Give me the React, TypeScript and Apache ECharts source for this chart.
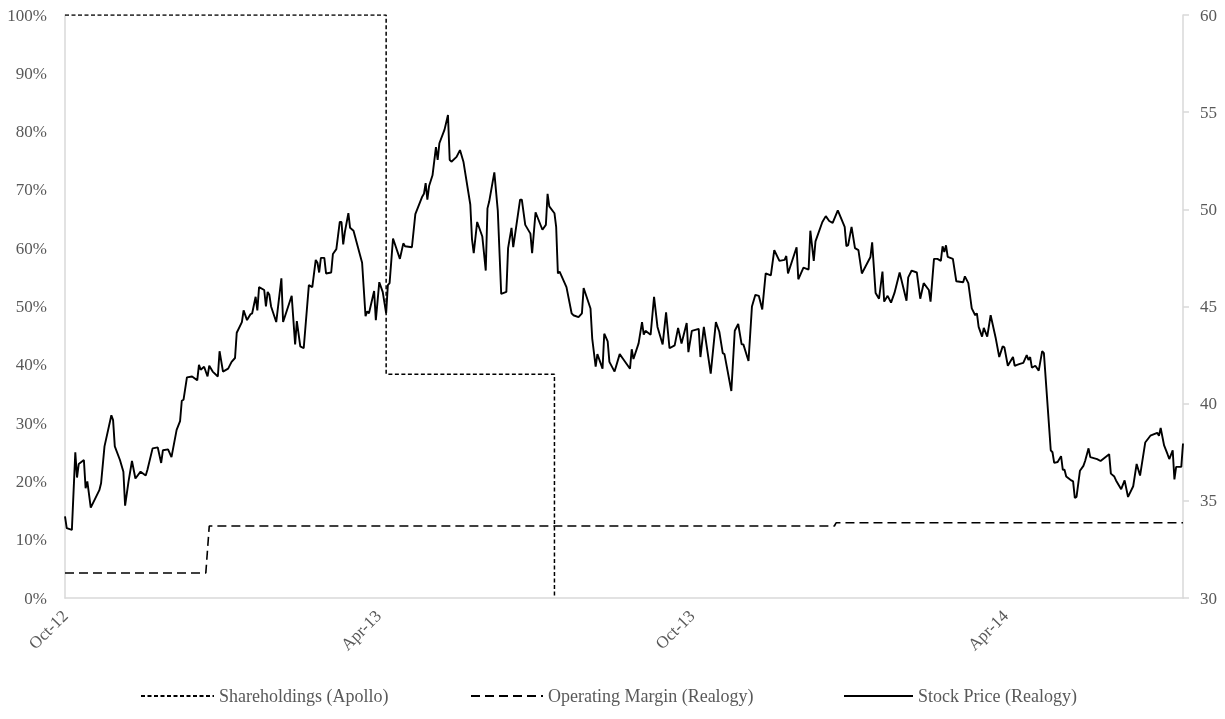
import React, { useEffect, useRef } from "react";
import * as echarts from "echarts";

// x values are days since 2012-10-01
const axisMaxDay = 651;
const tickStepDays = 182.5;
const tickLabels = ["Oct-12", "Apr-13", "Oct-13", "Apr-14"];
const leftTicksPct = { min: 0, max: 100, step: 10 };
const rightTicksPrice = { min: 30, max: 60, step: 5 };

const seriesNames = ["Shareholdings (Apollo)", "Operating Margin (Realogy)", "Stock Price (Realogy)"];

// Apollo shareholding (%), step line
const shareholdings: [number, number][] = [
  [0, 100], [187, 100], [187, 38.4], [285, 38.4], [285, 0],
];

// Realogy operating margin (%), step line
const operatingMargin: [number, number][] = [
  [0, 4.3], [82, 4.3], [84, 12.35], [448, 12.35], [449, 12.9], [651, 12.9],
];

// Realogy stock price (USD)
const stockPrice: [number, number][] = [
  [0, 34.2], [1, 33.6], [4, 33.5], [6, 37.5], [7, 36.2], [8, 36.9], [11, 37.1], [12, 35.65], [13, 36.0], [15, 34.65],
  [20, 35.55], [21, 35.9], [23, 37.8], [27, 39.4], [28, 39.15], [29, 37.8], [32, 37.1], [34, 36.5], [35, 34.75], [37, 36.0],
  [39, 37.05], [41, 36.15], [44, 36.5], [47, 36.3], [48, 36.6], [51, 37.7], [54, 37.75], [56, 36.95], [57, 37.6], [60, 37.65],
  [62, 37.25], [65, 38.65], [67, 39.1], [68, 40.15], [69, 40.2], [71, 41.35], [74, 41.4], [77, 41.2], [78, 42.0], [79, 41.75],
  [81, 41.9], [83, 41.4], [84, 41.95], [86, 41.65], [89, 41.4], [90, 42.7], [92, 41.65], [95, 41.8], [97, 42.15], [99, 42.35],
  [100, 43.65], [103, 44.2], [104, 44.8], [106, 44.3], [108, 44.6], [109, 44.65], [111, 45.5], [112, 44.8], [113, 46.0], [116, 45.85],
  [117, 45.0], [118, 45.75], [119, 45.6], [120, 45.0], [123, 44.2], [126, 46.45], [127, 44.2], [132, 45.55], [134, 43.05], [135, 44.25],
  [137, 42.95], [139, 42.85], [142, 46.1], [144, 46.0], [146, 47.4], [147, 47.25], [148, 46.75], [149, 47.5], [151, 47.5], [152, 46.7],
  [155, 46.75], [156, 47.7], [158, 47.95], [160, 49.35], [161, 49.35], [162, 48.2], [163, 48.85], [165, 49.8], [166, 49.05], [168, 48.9],
  [173, 47.25], [175, 44.5], [176, 44.75], [177, 44.65], [180, 45.8], [181, 44.3], [183, 46.25], [185, 45.75], [187, 44.65], [188, 46.1],
  [189, 46.2], [191, 48.5], [195, 47.45], [197, 48.25], [198, 48.1], [202, 48.05], [204, 49.75], [208, 50.65], [209, 50.8], [210, 51.35],
  [211, 50.5], [212, 51.2], [214, 51.75], [216, 53.2], [217, 52.55], [218, 53.4], [221, 54.1], [223, 54.85], [224, 52.55], [225, 52.45],
  [228, 52.7], [230, 53.05], [232, 52.45], [236, 50.25], [237, 48.45], [238, 47.75], [240, 49.35], [243, 48.6], [245, 46.85], [246, 50.05],
  [247, 50.4], [250, 51.9], [252, 49.95], [254, 45.65], [257, 45.75], [258, 48.0], [260, 49.05], [261, 48.05], [265, 50.5], [266, 50.5],
  [268, 49.2], [271, 48.75], [272, 47.75], [274, 49.85], [278, 48.95], [280, 49.2], [281, 50.8], [282, 50.15], [285, 49.8], [286, 49.1],
  [287, 46.7], [288, 46.8], [292, 46.0], [295, 44.65], [296, 44.55], [299, 44.45], [301, 44.65], [302, 45.95], [306, 44.9], [307, 43.35],
  [309, 41.9], [310, 42.55], [313, 41.8], [314, 43.6], [316, 43.2], [317, 42.15], [320, 41.65], [323, 42.55], [325, 42.3], [329, 41.8],
  [330, 42.8], [331, 42.3], [334, 43.1], [336, 44.2], [337, 43.55], [338, 43.75], [341, 43.55], [343, 45.5], [345, 43.95], [348, 43.05],
  [350, 44.7], [352, 42.85], [355, 43.0], [357, 43.9], [359, 43.1], [362, 44.15], [363, 42.65], [365, 43.75], [369, 43.85], [370, 42.4],
  [372, 43.95], [376, 41.55], [379, 44.2], [381, 43.7], [383, 42.6], [384, 42.55], [388, 40.65], [390, 43.75], [392, 44.1], [394, 43.05],
  [395, 43.05], [398, 42.2], [400, 45.0], [402, 45.6], [404, 45.55], [406, 44.85], [408, 46.7], [411, 46.6], [413, 47.9], [416, 47.35],
  [419, 47.4], [420, 47.6], [421, 46.7], [426, 48.05], [427, 46.4], [430, 47.0], [433, 46.9], [434, 48.9], [436, 47.35], [437, 48.35],
  [441, 49.35], [443, 49.65], [445, 49.4], [447, 49.3], [450, 49.95], [454, 49.1], [455, 48.1], [456, 48.15], [458, 49.1], [460, 48.0],
  [462, 47.9], [464, 46.7], [469, 47.55], [470, 48.3], [472, 45.7], [474, 45.4], [476, 46.8], [477, 45.25], [479, 45.55], [481, 45.2],
  [483, 45.7], [486, 46.75], [490, 45.3], [491, 46.5], [493, 46.85], [496, 46.75], [498, 45.4], [500, 46.2], [503, 45.85], [504, 45.25],
  [506, 47.45], [508, 47.45], [510, 47.35], [511, 48.1], [512, 47.8], [513, 48.15], [514, 47.55], [517, 47.45], [519, 46.3], [523, 46.25],
  [524, 46.55], [526, 46.2], [528, 44.9], [530, 44.55], [531, 44.65], [532, 43.95], [534, 43.45], [535, 43.9], [537, 43.45], [539, 44.55],
  [542, 43.35], [544, 42.4], [546, 42.95], [547, 42.9], [549, 41.95], [552, 42.4], [553, 41.95], [556, 42.05], [558, 42.1], [560, 42.5],
  [561, 42.25], [562, 42.4], [563, 41.85], [565, 41.95], [567, 41.7], [569, 42.7], [570, 42.6], [574, 37.6], [575, 37.5], [576, 36.95],
  [578, 37.0], [580, 37.3], [581, 36.6], [582, 36.6], [583, 36.25], [586, 36.05], [587, 36.0], [588, 35.15], [589, 35.2], [591, 36.55],
  [593, 36.8], [594, 37.05], [596, 37.7], [597, 37.25], [601, 37.15], [603, 37.05], [608, 37.4], [609, 36.4], [611, 36.25], [612, 36.05],
  [615, 35.6], [617, 36.05], [619, 35.2], [622, 35.75], [624, 36.9], [626, 36.3], [629, 38.0], [632, 38.35], [636, 38.5], [637, 38.35],
  [638, 38.75], [640, 37.85], [642, 37.4], [643, 37.15], [645, 37.6], [646, 36.1], [647, 36.75], [650, 36.75], [651, 37.95],
];

const FONT = '"Liberation Serif", "Times New Roman", serif';
const TEXT = "#595959";
const AXIS = "#d9d9d9";

export default function App() {
  const ref = useRef<HTMLDivElement>(null);
  useEffect(() => {
    if (!ref.current) return;
    const chart = echarts.init(ref.current, undefined, { renderer: "svg" });
    const legendBase = {
      top: 682,
      itemHeight: 14,
      itemStyle: { opacity: 0 },
      textStyle: { fontFamily: FONT, fontSize: 18, color: TEXT },
    };
    chart.setOption({
      animation: false,
      textStyle: { fontFamily: FONT },
      grid: { left: 65, right: 42, top: 15, bottom: 121 },
      xAxis: {
        type: "value",
        min: 0,
        max: axisMaxDay,
        interval: tickStepDays,
        axisLine: { show: true, lineStyle: { color: AXIS, width: 1.5 } },
        axisTick: { show: false },
        splitLine: { show: false },
        axisLabel: {
          rotate: 45,
          color: TEXT,
          fontSize: 17,
          fontFamily: FONT,
          margin: 15,
          showMaxLabel: false,
          formatter: (v: number) => {
            const i = Math.round(v / tickStepDays);
            return Math.abs(v - i * tickStepDays) < 1 && tickLabels[i] ? tickLabels[i] : "";
          },
        },
      },
      yAxis: [
        {
          type: "value",
          position: "left",
          min: leftTicksPct.min,
          max: leftTicksPct.max,
          interval: leftTicksPct.step,
          axisLine: { show: true, lineStyle: { color: AXIS, width: 1.5 } },
          axisTick: { show: false },
          splitLine: { show: false },
          axisLabel: { formatter: "{value}%", color: TEXT, fontSize: 17, fontFamily: FONT, margin: 18 },
        },
        {
          type: "value",
          position: "right",
          min: rightTicksPrice.min,
          max: rightTicksPrice.max,
          interval: rightTicksPrice.step,
          axisLine: { show: true, lineStyle: { color: AXIS, width: 1.5 } },
          axisTick: { show: true, length: 6, lineStyle: { color: AXIS, width: 1.5 } },
          splitLine: { show: false },
          axisLabel: { color: TEXT, fontSize: 17, fontFamily: FONT, margin: 17 },
        },
      ],
      legend: [
        { ...legendBase, left: 135, itemWidth: 73, data: [seriesNames[0]] },
        { ...legendBase, left: 465, itemWidth: 72, data: [seriesNames[1]] },
        { ...legendBase, left: 838, itemWidth: 69, data: [seriesNames[2]] },
      ],
      series: [
        {
          name: seriesNames[0],
          type: "line",
          yAxisIndex: 0,
          data: shareholdings,
          symbol: "none",
          lineStyle: { color: "#000", width: 1.5, type: [4, 2.5] },
          itemStyle: { color: "#000" },
        },
        {
          name: seriesNames[1],
          type: "line",
          yAxisIndex: 0,
          data: operatingMargin,
          symbol: "none",
          lineStyle: { color: "#000", width: 1.6, type: [9, 5] },
          itemStyle: { color: "#000" },
        },
        {
          name: seriesNames[2],
          type: "line",
          yAxisIndex: 1,
          data: stockPrice,
          symbol: "none",
          lineStyle: { color: "#000", width: 1.9 },
          itemStyle: { color: "#000" },
          z: 3,
        },
      ],
    });
    return () => chart.dispose();
  }, []);
  return <div ref={ref} style={{ position: "fixed", left: 0, top: 0, width: 1225, height: 719 }} />;
}
